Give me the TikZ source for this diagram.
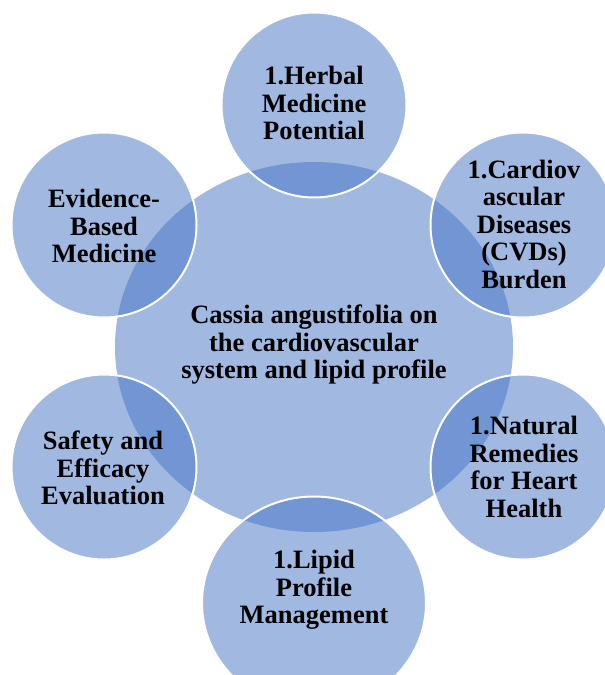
\documentclass[tikz,border=0pt]{standalone}
\usepackage{fontspec}
\setmainfont{Liberation Serif}
\usetikzlibrary{shapes.geometric}
\definecolor{accentblue}{HTML}{4472C4}
\tikzset{
  blob/.style={ellipse, inner sep=0pt, fill=accentblue, fill opacity=0.5},
  sat/.style={blob, draw=white, draw opacity=1, line width=2pt, minimum width=185pt, minimum height=185pt},
  lbl/.style={align=center, text=black, inner sep=0pt,
    font=\fontsize{26.5}{27.5}\selectfont\bfseries}
}
\begin{document}
\begin{tikzpicture}[x=1pt,y=-1pt]
\useasboundingbox (0,0) rectangle (605,675);
\clip (0,0) rectangle (605,675);
% central ellipse
\node[blob, minimum width=398pt, minimum height=370pt] (core) at (314,347) {};
% satellites
\node[sat] (herbal) at (314,105) {};
\node[sat] (cvd) at (523,225) {};
\node[sat] (natural) at (523,467) {};
\node[sat, minimum width=224pt, minimum height=213pt] (lipid) at (314,603) {};
\node[sat] (safety) at (104,467) {};
\node[sat] (evidence) at (104,225) {};
% labels
\node[lbl] (tcore) at (314,345) {Cassia angustifolia on\\the cardiovascular\\system and lipid profile};
\node[lbl] (therbal) at (314,103) {1.Herbal\\Medicine\\Potential};
\node[lbl] (tcvd) at (524,224) {1.Cardiov\\ascular\\Diseases\\(CVDs)\\Burden};
\node[lbl] (tnatural) at (524,467) {1.Natural\\Remedies\\for Heart\\Health};
\node[lbl] (tlipid) at (314,590) {1.Lipid\\Profile\\Management};
\node[lbl] (tsafety) at (103,468) {Safety and\\Efficacy\\Evaluation};
\node[lbl] (tevidence) at (104,226) {Evidence-\\Based\\Medicine};
\end{tikzpicture}
\end{document}
